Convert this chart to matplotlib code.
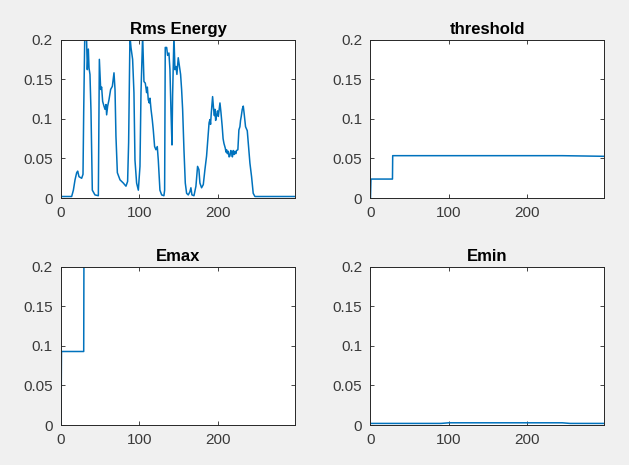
import matplotlib
matplotlib.use('Agg')
import matplotlib.pyplot as plt

# Rms energy (frame index, value)
rms_t = [0, 13.6, 15.8, 17.9, 20.0, 21.3, 23.0, 26.4, 28.1, 29.0, 30.5, 32.3, 33.6, 34.9, 35.8,
         37.0, 38.3, 40.0, 43.4, 47.7, 49.0, 50.7, 51.9, 53.2, 54.9, 56.2, 57.5, 58.3, 59.6,
         61.3, 63.4, 65.6, 67.7, 69.0, 70.2, 72.0, 75.4, 79.6, 83.0, 85.1, 86.4, 88.1, 89.4,
         91.5, 93.2, 94.5, 96.6, 98.8, 100.9, 102.2, 104.3, 106.0, 107.7, 109.4, 110.3, 111.5,
         112.8, 113.7, 115.0, 116.6, 117.9, 119.6, 121.3, 123.0, 124.3, 126.4, 128.6, 131.5,
         132.4, 133.2, 135.0, 136.2, 137.9, 139.2, 140.5, 141.8, 142.6, 144.3, 145.6, 146.9,
         148.1, 149.8, 151.1, 152.8, 154.1, 155.4, 157.1, 158.8, 160.5, 162.6, 164.7, 166.0,
         167.3, 169.9, 172.4, 174.5, 176.2, 177.5, 179.6, 181.8, 183.9, 186.0, 188.2, 189.2,
         190.3, 191.1, 192.0, 193.7, 195.0, 196.0, 196.7, 197.6, 198.8, 200.0, 201.0, 203.1,
         204.4, 206.0, 207.1, 208.2, 209.0, 209.9, 210.8, 211.6, 212.6, 213.7, 214.8, 215.8,
         217.0, 218.0, 219.0, 220.1, 221.2, 222.2, 223.3, 224.3, 226.0, 227.3, 228.6, 229.4,
         230.3, 231.6, 232.9, 234.1, 235.8, 238.0, 239.7, 241.4, 243.5, 245.6, 247.8, 298.8]
rms_v = [0.002, 0.002, 0.010, 0.023, 0.032, 0.034, 0.027, 0.025, 0.030, 0.110, 0.215, 0.215, 0.162, 0.188, 0.164,
         0.156, 0.110, 0.010, 0.004, 0.003, 0.175, 0.137, 0.140, 0.122, 0.116, 0.112, 0.118, 0.105, 0.116,
         0.124, 0.137, 0.141, 0.158, 0.137, 0.078, 0.032, 0.023, 0.019, 0.015, 0.021, 0.070, 0.205, 0.190,
         0.175, 0.133, 0.048, 0.019, 0.010, 0.040, 0.133, 0.205, 0.147, 0.145, 0.133, 0.140, 0.124,
         0.120, 0.126, 0.112, 0.099, 0.086, 0.065, 0.061, 0.065, 0.048, 0.010, 0.004, 0.003,
         0.010, 0.190, 0.190, 0.180, 0.183, 0.162, 0.110, 0.067, 0.130, 0.205, 0.162, 0.166,
         0.156, 0.177, 0.168, 0.156, 0.137, 0.112, 0.061, 0.019, 0.006, 0.004, 0.008, 0.013,
         0.004, 0.003, 0.015, 0.040, 0.036, 0.019, 0.013, 0.017, 0.036, 0.053, 0.082, 0.095,
         0.099, 0.093, 0.107, 0.128, 0.112, 0.104, 0.112, 0.098, 0.105, 0.110, 0.103, 0.120,
         0.108, 0.090, 0.075, 0.069, 0.066, 0.063, 0.058, 0.061, 0.056, 0.059, 0.052, 0.053,
         0.060, 0.057, 0.052, 0.060, 0.055, 0.059, 0.056, 0.060, 0.061, 0.086, 0.090, 0.098,
         0.103, 0.112, 0.116, 0.106, 0.090, 0.085, 0.065, 0.044, 0.027, 0.006, 0.002, 0.002]

# threshold, Emax, Emin as step levels (frame index, value)
thr_t = [0, 0.6, 28.1, 28.4, 245, 298.8]
thr_v = [0.0, 0.024, 0.024, 0.0535, 0.0535, 0.0527]

emax_t = [0, 0.6, 29.0, 29.3, 298.8]
emax_v = [0.0, 0.093, 0.093, 0.215, 0.215]

emin_t = [0, 90, 100, 245, 255, 298.8]
emin_v = [0.002, 0.002, 0.0028, 0.0028, 0.002, 0.002]

titles = ['Rms Energy', 'threshold', 'Emax', 'Emin']
series = [(rms_t, rms_v), (thr_t, thr_v), (emax_t, emax_v), (emin_t, emin_v)]

plt.rcParams['font.family'] = ['Liberation Sans', 'DejaVu Sans']

fig = plt.figure(figsize=(6.29, 4.65), dpi=100, facecolor='#f0f0f0')

# axes boxes in figure fractions, MATLAB subplot(2,2,k) style
boxes = [[0.097, 0.574, 0.372, 0.341],
         [0.589, 0.574, 0.372, 0.341],
         [0.097, 0.086, 0.372, 0.340],
         [0.589, 0.086, 0.372, 0.340]]

for k in range(4):
    ax = fig.add_axes(boxes[k])
    t, v = series[k]
    ax.plot(t, v, color='#0072BD', lw=1.1)
    ax.set_xlim(0, 299)
    ax.set_ylim(0, 0.2)
    ax.set_xticks([0, 100, 200])
    ax.set_yticks([0, 0.05, 0.1, 0.15, 0.2])
    ax.set_yticklabels(['0', '0.05', '0.1', '0.15', '0.2'])
    ax.tick_params(direction='in', length=3, width=0.6, colors='#262626',
                   labelcolor='#3a3a3a', labelsize=11, top=True, right=True)
    ax.tick_params(axis='x', pad=6)
    ax.tick_params(axis='y', pad=6)
    for sp in ax.spines.values():
        sp.set_color('#262626')
        sp.set_linewidth(0.7)
    ax.set_title(titles[k], fontsize=12, fontweight='bold', pad=4)

fig.savefig('out.png', dpi=100, facecolor=fig.get_facecolor())
